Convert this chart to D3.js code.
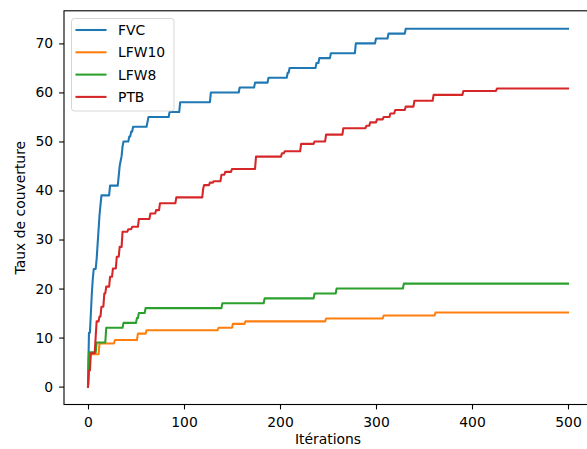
<!DOCTYPE html>
<html><head><meta charset="utf-8">
<script src="https://cdn.jsdelivr.net/npm/d3@7"></script>
<style>
body{margin:0;background:#fff}
svg text{font-family:"DejaVu Sans",sans-serif;fill:#000}
</style>
</head><body>
<svg id="chart" width="587" height="449"></svg>
<script>
// ---- data (change points: iteration where the value changes, and the new value) ----
const seriesNames = ["FVC", "LFW10", "LFW8", "PTB"];
const seriesColors = ["#1f77b4", "#ff7f0e", "#2ca02c", "#d62728"];
const lastIteration = 500;

const fvcIters  = [0,1,3,4,5,6,9,10,11,12,13,14,23,32,33,34,35,36,37,43,45,47,62,63,85,96,128,158,174,188,208,210,238,241,253,279,300,313,331];
const fvcValues = [0,11,15,19,22,24,26,29,32,35,37,39,41,43,45,46,47,49,50,51,52,53,54,55,56,58,60,61,62,63,64,65,66,67,68,70,71,72,73];

const lfw10Iters  = [0,1,12,28,52,61,136,151,164,248,308,362];
const lfw10Values = [0,6.6,8.8,9.5,10.8,11.5,12.0,12.8,13.3,13.9,14.5,15.1];

const lfw8Iters  = [0,1,9,19,37,51,53,60,140,184,236,259,329];
const lfw8Values = [0,7,9,12,13,14,15,16,17,18,19,20,21];

const ptbIters  = [0,1,3,8,9,12,14,17,19,23,26,30,33,36,42,46,53,65,71,75,92,120,121,127,131,139,143,150,175,202,205,222,236,248,266,290,294,301,308,315,320,331,340,360,391,426];
const ptbValues = [0,3.3,6.8,10.2,13.3,14.3,16.3,19,20.4,22.4,24.1,26.5,28.5,31.6,32.1,32.6,34.2,35.3,36.0,37.4,38.6,40.4,41.1,41.6,41.9,43.2,43.8,44.4,46.9,47.6,48.0,49.5,50.0,51.4,52.7,53.2,53.9,54.5,55.0,55.7,56.4,57.1,58.3,59.5,60.3,60.8];

const xTickValues = [0, 100, 200, 300, 400, 500];
const yTickValues = [0, 10, 20, 30, 40, 50, 60, 70];
const xLabel = "Itérations";
const yLabel = "Taux de couverture";

const series = [
  {name: seriesNames[0], color: seriesColors[0], iters: fvcIters, values: fvcValues},
  {name: seriesNames[1], color: seriesColors[1], iters: lfw10Iters, values: lfw10Values},
  {name: seriesNames[2], color: seriesColors[2], iters: lfw8Iters, values: lfw8Values},
  {name: seriesNames[3], color: seriesColors[3], iters: ptbIters, values: ptbValues}
];

// ---- layout ----
const L = 64, R = 592, T = 10.8, B = 404.5;
const FS = 13.9;
const svg = d3.select("#chart");
const x = d3.scaleLinear().domain([-25, 525]).range([L, R]);
const y = d3.scaleLinear().domain([-3.65, 76.65]).range([B, T]);

svg.append("defs").append("clipPath").attr("id", "clip")
  .append("rect").attr("x", L).attr("y", T).attr("width", R - L).attr("height", B - T);

// lines: value held between change points, one iteration per step (as plotted per iteration)
function toPoints(s) {
  const pts = [];
  s.iters.forEach((it, k) => {
    if (k > 0 && it - 1 > s.iters[k - 1]) pts.push([it - 1, s.values[k - 1]]);
    pts.push([it, s.values[k]]);
  });
  pts.push([lastIteration, s.values[s.values.length - 1]]);
  return pts;
}
const line = d3.line().x(d => x(d[0])).y(d => y(d[1]));
const gLines = svg.append("g").attr("clip-path", "url(#clip)");
series.forEach(s => {
  gLines.append("path").attr("d", line(toPoints(s)))
    .attr("fill", "none").attr("stroke", s.color)
    .attr("stroke-width", 2.08).attr("stroke-linejoin", "round").attr("stroke-linecap", "square");
});

// axes
const xAxis = d3.axisBottom(x).tickValues(xTickValues).tickSize(4.9).tickPadding(7.4).tickSizeOuter(0);
const yAxis = d3.axisLeft(y).tickValues(yTickValues).tickSize(4.9).tickPadding(6).tickSizeOuter(0);
const gx = svg.append("g").attr("transform", `translate(0,${B})`).call(xAxis);
const gy = svg.append("g").attr("transform", `translate(${L},0)`).call(yAxis);
[gx, gy].forEach(g => {
  g.select(".domain").remove();
  g.selectAll(".tick line").attr("stroke", "#000").attr("stroke-width", 1.1);
  g.selectAll(".tick text").attr("font-size", FS).attr("font-family", "DejaVu Sans").attr("fill", "#000");
});

// spines
const spine = svg.append("g").attr("stroke", "#000").attr("stroke-width", 1.1).attr("fill", "none");
spine.append("rect").attr("x", L).attr("y", T).attr("width", R - L).attr("height", B - T);

// axis labels
svg.append("text").attr("x", (L + R) / 2).attr("y", 443.5).attr("text-anchor", "middle")
  .attr("font-size", FS).text(xLabel);
svg.append("text").attr("transform", `translate(24.5,${(T + B) / 2}) rotate(-90)`)
  .attr("text-anchor", "middle").attr("font-size", FS).text(yLabel);

// legend
const lg = svg.append("g");
lg.append("rect").attr("x", 71.5).attr("y", 18.5).attr("width", 102.5).attr("height", 92.5)
  .attr("rx", 2.8).attr("fill", "#fff").attr("fill-opacity", 0.8)
  .attr("stroke", "#cccccc").attr("stroke-opacity", 0.8).attr("stroke-width", 1);
series.forEach((s, i) => {
  const yy = 30 + i * 22.3;
  lg.append("line").attr("x1", 76.5).attr("x2", 105.5).attr("y1", yy).attr("y2", yy)
    .attr("stroke", s.color).attr("stroke-width", 2.08).attr("stroke-linecap", "square");
  lg.append("text").attr("x", 118).attr("y", yy + 5).attr("font-size", FS).text(s.name);
});
</script>
</body></html>
